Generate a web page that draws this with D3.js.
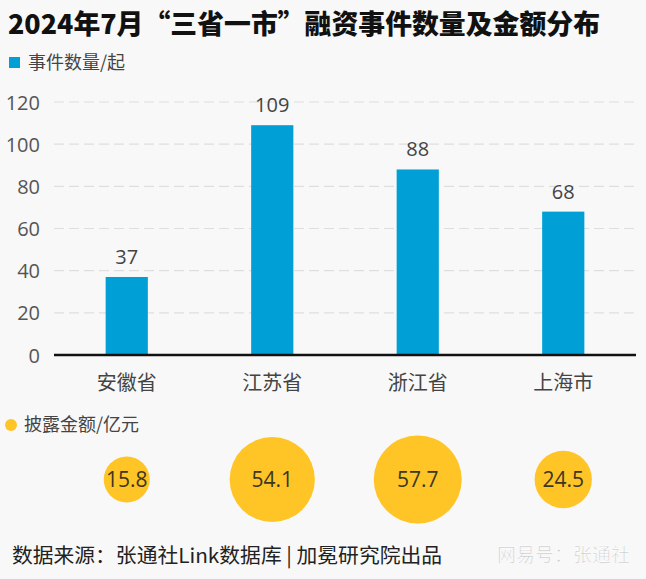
<!DOCTYPE html>
<html>
<head>
<meta charset="utf-8">
<script src="https://cdn.jsdelivr.net/npm/d3@7"></script>
<style>
  html, body { margin: 0; padding: 0; background: #f8f8f8; }
  svg { display: block; }
  text { font-family: "Open Sans", "Noto Sans CJK SC", sans-serif; }
  .cjk { font-family: "Noto Sans CJK SC", "Open Sans", sans-serif; }
</style>
</head>
<body>
<svg id="chart" width="646" height="579"></svg>
<script>
const categories = ["安徽省", "江苏省", "浙江省", "上海市"];
const eventCounts = [37, 109, 88, 68];
const amounts = [15.8, 54.1, 57.7, 24.5];
const yTicks = [0, 20, 40, 60, 80, 100, 120];

const titleText = "2024年7月“三省一市”融资事件数量及金额分布";
const legendCount = "事件数量/起";
const legendAmount = "披露金额/亿元";
const sourceText = "数据来源：张通社Link数据库 | 加冕研究院出品";
const watermark = "网易号：张通社";

const W = 646, H = 579;
const svg = d3.select("#chart");
svg.append("rect").attr("width", W).attr("height", H).attr("fill", "#f8f8f8");

const x = d3.scaleBand().domain(categories).range([54, 636]).padding(0.71).paddingOuter(0.355);
const y = d3.scaleLinear().domain([0, 120]).range([355, 102]);
const r = d3.scaleSqrt().domain([0, 57.7]).range([0, 44]);

// Title
svg.append("text").attr("class", "cjk")
  .attr("x", 8).attr("y", 34)
  .attr("font-size", 27).attr("font-weight", 900).attr("fill", "#111")
  .attr("textLength", 592).attr("lengthAdjust", "spacingAndGlyphs")
  .text(titleText);

// Legend 1
svg.append("rect").attr("x", 9).attr("y", 57).attr("width", 11).attr("height", 11).attr("fill", "#00a0d6");
svg.append("text").attr("class", "cjk").attr("x", 28).attr("y", 69)
  .attr("font-size", 18).attr("fill", "#444").text(legendCount);

// Grid lines
const grid = svg.append("g");
grid.selectAll("line").data(yTicks.filter(d => d > 0)).join("line")
  .attr("x1", 54).attr("x2", 636)
  .attr("y1", d => y(d)).attr("y2", d => y(d))
  .attr("stroke", "#dedede").attr("stroke-width", 1.2).attr("stroke-dasharray", "10,5");

// Y axis
const yAxis = svg.append("g").attr("transform", "translate(40,0)")
  .call(d3.axisLeft(y).tickValues(yTicks).tickSize(0).tickPadding(0));
yAxis.select(".domain").remove();
yAxis.selectAll("text").attr("font-size", 20).attr("fill", "#555")
  .attr("font-family", "'Open Sans', sans-serif").attr("dy", "0.35em");

// Bars
svg.append("g").selectAll("rect").data(eventCounts).join("rect")
  .attr("x", (d, i) => x(categories[i]))
  .attr("width", x.bandwidth())
  .attr("y", d => y(d))
  .attr("height", d => y(0) - y(d))
  .attr("fill", "#00a0d6");

// Value labels
svg.append("g").selectAll("text").data(eventCounts).join("text")
  .attr("x", (d, i) => x(categories[i]) + x.bandwidth() / 2)
  .attr("y", d => y(d) - 13)
  .attr("text-anchor", "middle").attr("font-size", 20).attr("fill", "#444")
  .text(d => d);

// Baseline x axis
const xAxis = svg.append("g").attr("transform", `translate(0,${y(0)})`)
  .call(d3.axisBottom(x).tickSize(0).tickPadding(0));
xAxis.select(".domain").attr("stroke", "#111").attr("stroke-width", 2.5)
  .attr("d", "M54,0H636");
xAxis.selectAll("text").attr("class", "cjk").attr("font-size", 20).attr("fill", "#444")
  .attr("font-family", "'Noto Sans CJK SC', sans-serif")
  .attr("y", 35).attr("dy", 0);

// Legend 2
svg.append("circle").attr("cx", 11).attr("cy", 425).attr("r", 6).attr("fill", "#ffc425");
svg.append("text").attr("class", "cjk").attr("x", 24).attr("y", 431)
  .attr("font-size", 18).attr("fill", "#444").text(legendAmount);

// Bubbles
const bub = svg.append("g");
bub.selectAll("circle").data(amounts).join("circle")
  .attr("cx", (d, i) => x(categories[i]) + x.bandwidth() / 2)
  .attr("cy", 479.5)
  .attr("r", d => r(d))
  .attr("fill", "#ffc425");
bub.selectAll("text").data(amounts).join("text")
  .attr("x", (d, i) => x(categories[i]) + x.bandwidth() / 2)
  .attr("y", 479.5).attr("dy", "0.36em")
  .attr("text-anchor", "middle").attr("font-size", 21).attr("fill", "#3c3625")
  .text(d => d.toFixed(1));

// Footer
svg.append("text").attr("class", "cjk").attr("x", 12).attr("y", 563)
  .attr("font-size", 20).attr("fill", "#222")
  .attr("textLength", 430).attr("lengthAdjust", "spacingAndGlyphs")
  .text(sourceText);
svg.append("text").attr("class", "cjk").attr("x", 630).attr("y", 562)
  .attr("text-anchor", "end").attr("font-size", 19).attr("fill", "#c8c8c8")
  .attr("stroke", "#ffffff").attr("stroke-width", 0.6).text(watermark);
</script>
</body>
</html>
